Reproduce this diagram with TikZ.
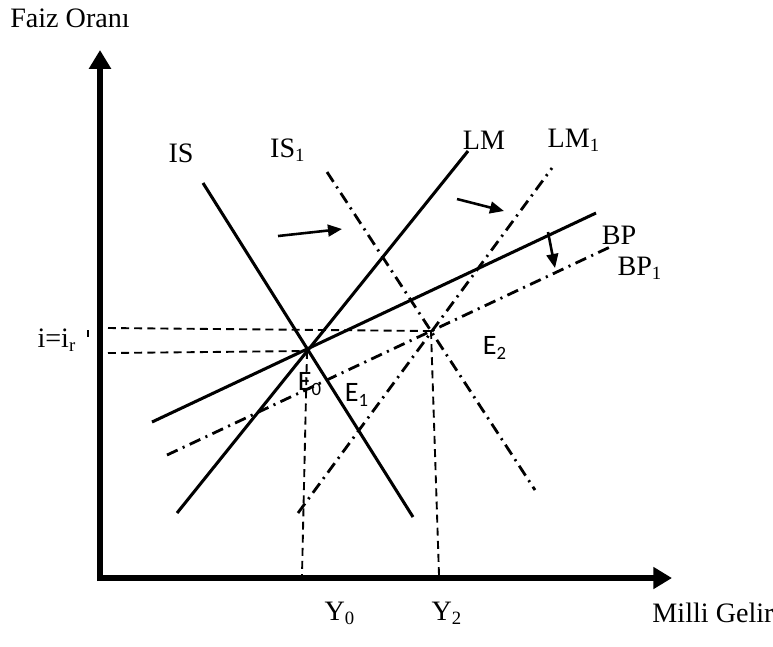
\documentclass[tikz,border=0pt]{standalone}
\usepackage{fontspec}
\setmainfont{Liberation Serif}
\newfontfamily\calfont{Carlito}
\usetikzlibrary{arrows.meta}
\tikzset{
  curve/.style={line width=1.3pt},
  shifted/.style={line width=1.2pt, dash pattern=on 5pt off 2.4pt on 0.9pt off 2.4pt},
  guide/.style={line width=0.8pt, dash pattern=on 3.4pt off 2.2pt},
  axis/.style={line width=2.6pt, -{Triangle[length=8pt,width=9pt]}},
  movearrow/.style={line width=1.1pt, -{Triangle[length=6pt,width=5pt]}},
  lbl/.style={font=\fontsize{12}{14}\selectfont, inner sep=0pt},
  elbl/.style={font=\calfont\fontsize{12}{14}\selectfont, inner sep=0pt}
}
\begin{document}
\begin{tikzpicture}[x=0.015cm, y=-0.015cm]
  \useasboundingbox (0,0) rectangle (773,646);
  % axes
  \coordinate (O) at (100,581);
  \coordinate (ytip) at (100,50);
  \coordinate (xstart) at (103,578);
  \coordinate (xtip) at (672,578);
  \draw[axis] (O) -- (ytip);
  \draw[axis] (xstart) -- (xtip);
  % equilibrium points
  \coordinate (E0) at (307,351);
  \coordinate (E2) at (431,331);
  % curve ends
  \coordinate (IStop) at (203,183);   \coordinate (ISbot) at (413,517);
  \coordinate (LMbot) at (177,513);   \coordinate (LMtop) at (468,151);
  \coordinate (BPleft) at (152,422);  \coordinate (BPright) at (596,213);
  \coordinate (ISatop) at (327,172);  \coordinate (ISabot) at (535,490);
  \coordinate (LMabot) at (298,513);  \coordinate (LMatop) at (552,168);
  \coordinate (BPaleft) at (167,455); \coordinate (BParight) at (610,247);
  % original curves
  \draw[curve] (IStop) -- (ISbot);
  \draw[curve] (LMbot) -- (LMtop);
  \draw[curve] (BPleft) -- (BPright);
  % shifted curves
  \draw[shifted] (ISatop) -- (ISabot);
  \draw[shifted] (LMabot) -- (LMatop);
  \draw[shifted] (BPaleft) -- (BParight);
  % guide lines
  \coordinate (ir) at (108,328);
  \coordinate (i0) at (108,353);
  \coordinate (Y0) at (302,575);
  \coordinate (Y2) at (439,575);
  \draw[guide] (ir) -- (E2);
  \draw[guide] (i0) -- (E0);
  \draw[guide] (E0) -- (Y0);
  \draw[guide] (E2) -- (Y2);
  \coordinate (tickA) at (88,330);
  \coordinate (tickB) at (88,337);
  \draw[line width=0.6pt] (tickA) -- (tickB);
  % shift arrows
  \coordinate (a1) at (278,236); \coordinate (b1) at (342,229);
  \coordinate (a2) at (457,199); \coordinate (b2) at (504,211);
  \coordinate (a3) at (548,232); \coordinate (b3) at (555,268);
  \foreach \s/\e in {a1/b1,a2/b2,a3/b3} { \draw[movearrow] (\s) -- (\e); }
  % labels
  \node[lbl] (faiz) at (70,18) {Faiz Oranı};
  \node[lbl] (gelir) at (713,613) {Milli Gelir};
  \node[lbl] (lIS) at (181,153) {IS};
  \node[lbl] (lISa) at (288,150) {IS\textsubscript{1}};
  \node[lbl] (lLM) at (484,140) {LM};
  \node[lbl] (lLMa) at (574,140) {LM\textsubscript{1}};
  \node[lbl] (lBP) at (619,235) {BP};
  \node[lbl] (lBPa) at (640,268) {BP\textsubscript{1}};
  \node[lbl] (lir) at (57,340) {i=i\textsubscript{r}};
  \node[lbl] (lY0) at (340,613) {Y\textsubscript{0}};
  \node[lbl] (lY2) at (447,613) {Y\textsubscript{2}};
  \node[elbl] (lE0) at (310,384) {E\textsubscript{0}};
  \node[elbl] (lE1) at (357,395) {E\textsubscript{1}};
  \node[elbl] (lE2) at (495,348) {E\textsubscript{2}};
\end{tikzpicture}
\end{document}
